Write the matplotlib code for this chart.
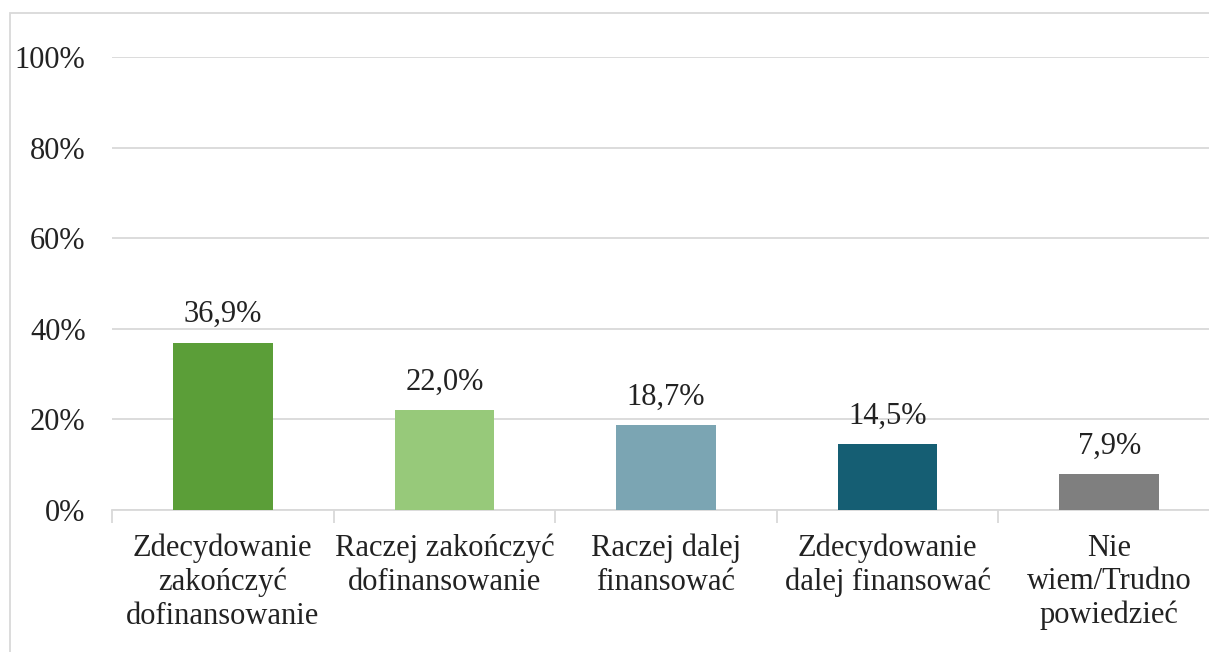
import matplotlib
matplotlib.use("Agg")
import matplotlib.pyplot as plt
from matplotlib.patches import Rectangle
import numpy as np

categories = ["Zdecydowanie\nzakończyć\ndofinansowanie", "Raczej zakończyć\ndofinansowanie",
              "Raczej dalej\nfinansować", "Zdecydowanie\ndalej finansować", "Nie\nwiem/Trudno\npowiedzieć"]
values = [36.9, 22.0, 18.7, 14.5, 7.9]
colors = ["#5B9E38", "#97C97A", "#7BA5B3", "#155E73", "#7F7F7F"]
yticks = [0, 20, 40, 60, 80, 100]

plt.rcParams['font.family'] = ['Liberation Serif', 'DejaVu Serif']

W, H = 1209, 652
fig = plt.figure(figsize=(W/100, H/100), dpi=100)
ax = fig.add_axes([112/W, (H-510)/H, (1220-112)/W, (510-57)/H])
x = np.arange(len(values))
ax.bar(x, values, width=0.45, color=colors, zorder=3)
for xi, v in zip(x, values):
    ax.text(xi, v + 3.0, f"{v:.1f}%".replace(".", ","), ha="center", va="bottom",
            fontsize=22, color="#222222")
ax.set_xlim(-0.5, len(values) - 0.5)
ax.set_ylim(0, 100)
ax.set_yticks(yticks)
ax.set_yticklabels([f"{t}%" for t in yticks], fontsize=22, color="#222222")
ax.set_xticks(x)
ax.set_xticklabels(categories, fontsize=22, color="#222222", linespacing=1.2)
ax.set_xticks(np.arange(-0.5, len(values), 1), minor=True)
ax.tick_params(axis='y', length=0, pad=19)
ax.tick_params(axis='x', which='major', length=0, pad=17)
ax.tick_params(axis='x', which='minor', length=9, color="#D9D9D9", width=1.3)
ax.grid(axis='y', color="#D9D9D9", linewidth=1.3, zorder=0)
for s in ["top", "right", "left"]:
    ax.spines[s].set_visible(False)
ax.spines["bottom"].set_color("#D9D9D9")
ax.spines["bottom"].set_linewidth(1.3)

fig.patches.append(Rectangle((10/W, -0.2), 2, 1.2 - 13/H, transform=fig.transFigure,
                             fill=False, edgecolor="#D9D9D9", linewidth=1.3))
fig.savefig("out.png", dpi=100)
